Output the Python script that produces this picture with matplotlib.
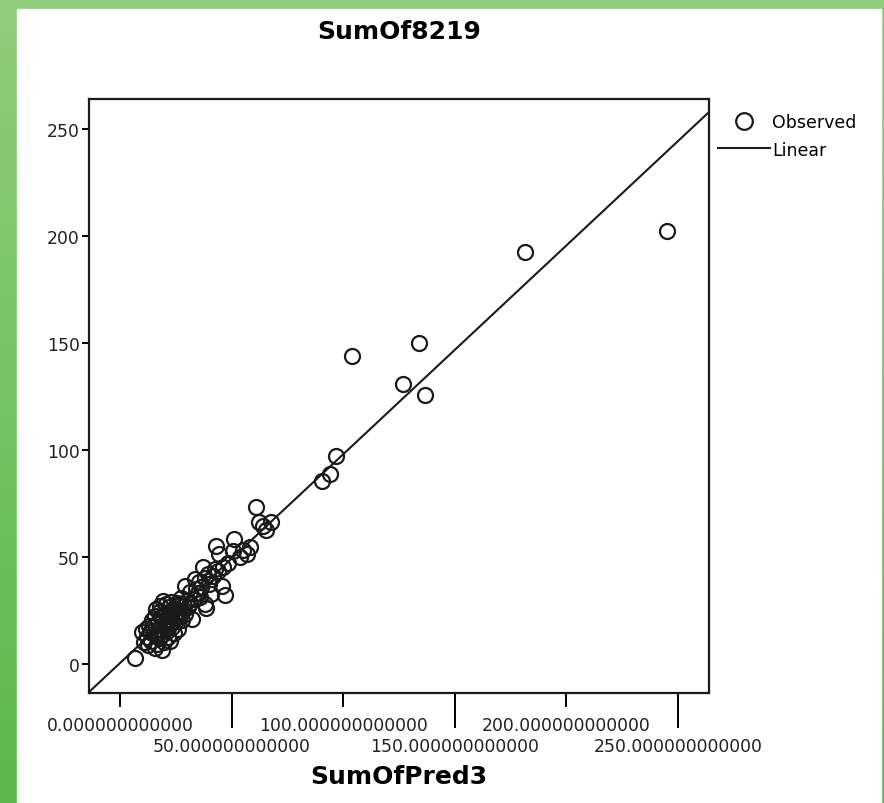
import numpy as np
import matplotlib
matplotlib.use("Agg")
import matplotlib.pyplot as plt
from matplotlib.lines import Line2D
from matplotlib.patches import Rectangle
from matplotlib.ticker import FixedLocator, FormatStrFormatter

# observed vs predicted
pred = [245.1, 181.6, 103.8, 134.2, 127.0, 136.8, 96.6, 93.9, 90.6,
        60.8, 62.3, 65.6, 67.8, 64.0, 51.0, 43.2, 44.4, 50.7, 58.1, 56.7, 53.7, 55.0,
        48.5, 46.2, 44.0, 37.3, 39.5, 41.5, 42.8, 33.5, 35.5, 38.0, 45.5, 47.0, 41.0,
        38.0, 29.1, 31.3, 34.0, 36.5, 32.1, 38.5, 26.1, 30.0, 27.5, 28.5, 25.5, 24.0, 33.0,
        6.7, 18.6, 22.4, 9.7, 10.7, 19.4, 16.1, 12.0, 13.5, 14.0, 15.0, 16.5, 17.0, 18.0,
        18.5, 19.0, 20.0, 20.5, 21.0, 21.5, 22.0, 22.5, 23.0, 23.5, 24.5, 25.0, 26.0, 27.0,
        28.0, 14.5, 15.5, 16.8, 17.5, 19.8, 11.5, 13.0, 12.5, 20.5, 23.0, 18.0, 24.0, 29.0,
        15.5, 17.5, 21.5, 26.5, 28.0, 30.5, 35.0, 40.0, 31.5, 36.0, 22.0, 25.5]
obs = [202.3, 192.5, 143.9, 150.0, 130.8, 125.7, 97.3, 88.8, 85.7,
       73.4, 66.2, 62.8, 66.2, 64.5, 58.4, 55.0, 51.4, 52.9, 54.5, 51.4, 49.9, 53.5,
       47.0, 45.2, 43.5, 45.2, 42.0, 41.0, 44.5, 39.7, 38.5, 40.0, 36.6, 32.2, 32.7,
       28.0, 36.6, 33.6, 35.0, 36.0, 21.0, 26.0, 16.4, 29.5, 31.0, 27.0, 28.5, 26.0, 30.5,
       2.7, 6.7, 10.9, 14.8, 10.1, 29.6, 25.7, 12.5, 15.0, 11.0, 17.5, 14.0, 19.6, 16.5,
       22.0, 13.5, 18.5, 24.0, 15.5, 21.0, 26.5, 19.0, 23.0, 17.5, 22.0, 20.0, 24.5, 22.5,
       25.0, 20.5, 22.5, 9.5, 12.0, 10.5, 16.5, 18.0, 9.0, 28.0, 29.0, 27.0, 14.5, 23.5,
       7.5, 24.5, 12.5, 27.5, 20.5, 26.5, 33.0, 37.5, 28.5, 31.5, 18.0, 23.5]

# linear fit line
fit_intercept = 0.5
fit_slope = 0.975

ticks = [0, 50, 100, 150, 200, 250]

W, H = 884, 804
fig = plt.figure(figsize=(W / 100, H / 100), dpi=100)

# green frame round the white panel
bg = fig.add_axes([0, 0, 1, 1], zorder=-10)
bg.set_xlim(0, W)
bg.set_ylim(H, 0)
bg.axis("off")
grad = np.linspace(0, 1, 256).reshape(-1, 1)
cmap = matplotlib.colors.LinearSegmentedColormap.from_list("g", ["#8fcd7c", "#5cb84a"])
bg.imshow(grad, cmap=cmap, aspect="auto", extent=[0, W, H, 0])
bg.add_patch(Rectangle((17, 10), 864, 800, color="white"))

ax = fig.add_axes([89 / W, 1 - 694 / H, 620 / W, 594 / H])
ax.plot(pred, obs, "o", ms=10.8, mfc="none", mec="#1a1a1a", mew=1.6, zorder=3)

ax.set_xlim(-13.9, 264)
ax.set_ylim(-13.5, 264)
xs = np.array(ax.get_xlim())
ax.plot(xs, fit_intercept + fit_slope * xs, color="#1a1a1a", lw=1.5, zorder=2)

for s in ax.spines.values():
    s.set_linewidth(1.6)
    s.set_color("#1a1a1a")

ax.xaxis.set_major_locator(FixedLocator(ticks[0::2]))
ax.xaxis.set_minor_locator(FixedLocator(ticks[1::2]))
ax.xaxis.set_major_formatter(FormatStrFormatter("%.12f"))
ax.xaxis.set_minor_formatter(FormatStrFormatter("%.12f"))
ax.tick_params(axis="x", which="major", length=10, width=1.4, pad=6.5, labelsize=12.4,
               labelcolor="#222222")
ax.tick_params(axis="x", which="minor", length=25, width=1.4, pad=6.5, labelsize=12.4,
               labelcolor="#222222")
ax.set_yticks(ticks)
ax.tick_params(axis="y", length=5, width=1.4, pad=1.5, labelsize=12.4, labelcolor="#222222")

ax.set_xlabel("SumOfPred3", fontsize=18, fontweight="bold", labelpad=7)
fig.text(0.5 * (89 + 709) / W, 1 - 32 / H, "SumOf8219", fontsize=18,
         fontweight="bold", ha="center", va="center")

handles = [Line2D([], [], ls="none", marker="o", ms=12, mfc="none", mec="#1a1a1a", mew=1.6),
           Line2D([], [], color="#1a1a1a", lw=1.5)]
fig.legend(handles, ["Observed", "Linear"], loc="upper left",
           bbox_to_anchor=(718 / W, 1 - 114 / H), frameon=False, fontsize=12.5,
           handlelength=3.0, handletextpad=0.1, labelspacing=0.55,
           borderpad=0, borderaxespad=0)

fig.savefig("out.png", dpi=100)
